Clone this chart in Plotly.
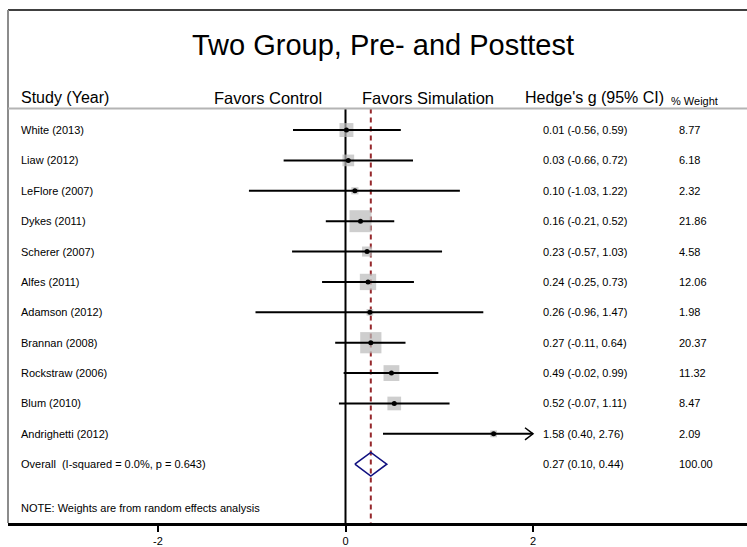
import plotly.graph_objects as go

# ---------------- data ----------------
studies = ["White (2013)", "Liaw (2012)", "LeFlore (2007)", "Dykes (2011)", "Scherer (2007)",
           "Alfes (2011)", "Adamson (2012)", "Brannan (2008)", "Rockstraw (2006)", "Blum (2010)",
           "Andrighetti (2012)"]
g_est = [0.01, 0.03, 0.10, 0.16, 0.23, 0.24, 0.26, 0.27, 0.49, 0.52, 1.58]
ci_lo = [-0.56, -0.66, -1.03, -0.21, -0.57, -0.25, -0.96, -0.11, -0.02, -0.07, 0.40]
ci_hi = [0.59, 0.72, 1.22, 0.52, 1.03, 0.73, 1.47, 0.64, 0.99, 1.11, 2.76]
weights = [8.77, 6.18, 2.32, 21.86, 4.58, 12.06, 1.98, 20.37, 11.32, 8.47, 2.09]

overall_label = "Overall  (I-squared = 0.0%, p = 0.643)"
overall_est, overall_lo, overall_hi, overall_w = 0.27, 0.10, 0.44, 100.00

tick_vals = [-2, 0, 2]
tick_text = ["-2", "0", "2"]

title_text = "Two Group, Pre- and Posttest"
note_text = "NOTE: Weights are from random effects analysis"

# ---------------- geometry ----------------
W, H = 747, 547
PL, PR, PT, PB = 8, 747, 10, 525          # plot area in pixels
X_RANGE = [(PL - 345.5) / 93.75, (PR - 345.5) / 93.75]
ROW0, ROWH = 130.5, 30.5
Y_RANGE = [(PB - ROW0) / ROWH, (PT - ROW0) / ROWH]   # reversed
CLIP = max(tick_vals)

FONT = "Liberation Sans, Arial, Helvetica, sans-serif"


def px(xp):
    return (xp - PL) / (PR - PL)


def row_of(yp):
    return (yp - ROW0) / ROWH


n = len(studies)
rows = list(range(n))
overall_row = n

fig = go.Figure()

# reference lines
row_top = row_of(109)
fig.add_trace(go.Scatter(x=[0, 0], y=[row_top, Y_RANGE[0]], mode="lines",
                         line=dict(color="black", width=2), hoverinfo="skip", showlegend=False))
fig.add_trace(go.Scatter(x=[overall_est, overall_est], y=[row_top, Y_RANGE[0]], mode="lines",
                         line=dict(color="#96282c", width=2, dash="5px,4px"),
                         hoverinfo="skip", showlegend=False))

# weight squares
fig.add_trace(go.Scatter(x=g_est, y=rows, mode="markers",
                         marker=dict(symbol="square", color="#b9b9b9",
                                     size=[4.7 * w ** 0.5 for w in weights], line=dict(width=0)),
                         hoverinfo="skip", showlegend=False))

# CI lines
for i in range(n):
    hi = min(ci_hi[i], CLIP)
    fig.add_trace(go.Scatter(x=[ci_lo[i], hi], y=[i, i], mode="lines",
                             line=dict(color="black", width=2), hoverinfo="skip", showlegend=False))
    if ci_hi[i] > CLIP:
        d = 8 / 93.75
        fig.add_trace(go.Scatter(x=[hi - d, hi, hi - d], y=[i - 0.2, i, i + 0.2], mode="lines",
                                 line=dict(color="black", width=1.5), hoverinfo="skip",
                                 showlegend=False))

# point estimates
fig.add_trace(go.Scatter(x=g_est, y=rows, mode="markers",
                         marker=dict(symbol="circle", color="black", size=5),
                         hoverinfo="skip", showlegend=False))

# overall diamond
dh = 0.39
fig.add_trace(go.Scatter(x=[overall_lo, overall_est, overall_hi, overall_est, overall_lo],
                         y=[overall_row, overall_row - dh, overall_row, overall_row + dh, overall_row],
                         mode="lines", line=dict(color="#101080", width=1.6),
                         hoverinfo="skip", showlegend=False))

ann = []


def add_text(text, xp, y, size, anchor="left", color="black"):
    ann.append(dict(text=text, x=px(xp), xref="paper", y=y, yref="y", xanchor=anchor,
                    yanchor="middle", showarrow=False, font=dict(family=FONT, size=size, color=color)))


add_text(title_text, 383, row_of(45), 29, anchor="center")
hdr = row_of(98)
add_text("Study (Year)", 19, hdr, 16)
add_text("Favors Control", 212, hdr, 16.5)
add_text("Favors Simulation", 360, hdr, 16.5)
add_text("Hedge's g (95% CI)", 523, hdr, 16)
add_text("% Weight", 669, row_of(101), 11)

for i in range(n):
    add_text(studies[i], 19, i, 11)
    add_text(f"{g_est[i]:.2f} ({ci_lo[i]:.2f}, {ci_hi[i]:.2f})", 541, i, 11)
    add_text(f"{weights[i]:.2f}", 677, i, 11)

add_text(overall_label, 19, overall_row, 11)
add_text(f"{overall_est:.2f} ({overall_lo:.2f}, {overall_hi:.2f})", 541, overall_row, 11)
add_text(f"{overall_w:.2f}", 677, overall_row, 11)
add_text(note_text, 19, row_of(510), 11)

shapes = [
    dict(type="line", xref="paper", yref="paper", x0=0, x1=1, y0=1, y1=1,
         line=dict(color="black", width=1.5)),
    dict(type="line", xref="paper", yref="paper", x0=0, x1=0, y0=0, y1=1,
         line=dict(color="#8c8c8c", width=2)),
    dict(type="line", xref="paper", yref="y", x0=0, x1=1, y0=row_of(109), y1=row_of(109),
         line=dict(color="#b4b4b4", width=2)),
]

fig.update_layout(
    width=W, height=H,
    margin=dict(l=PL, r=W - PR, t=PT, b=H - PB),
    paper_bgcolor="white", plot_bgcolor="white",
    showlegend=False,
    annotations=ann, shapes=shapes,
    xaxis=dict(range=X_RANGE, tickvals=tick_vals, ticktext=tick_text, showgrid=False,
               zeroline=False, showline=True, linecolor="black", linewidth=2.5,
               ticks="outside", ticklen=6, tickwidth=2, tickcolor="black",
               tickfont=dict(family=FONT, size=11, color="black"), fixedrange=True),
    yaxis=dict(range=Y_RANGE, showgrid=False, zeroline=False, showticklabels=False,
               showline=False, fixedrange=True),
)

fig.write_html("out.html", config={"displayModeBar": False},
               post_script="document.body.style.margin='0';document.body.style.overflow='hidden';")
